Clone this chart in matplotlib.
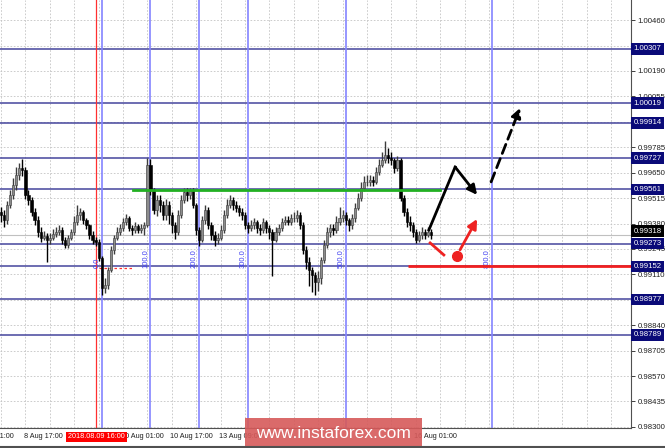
import matplotlib.pyplot as plt
from matplotlib.transforms import blended_transform_factory, ScaledTranslation
from matplotlib.patches import Rectangle
from matplotlib.lines import Line2D

plt.rcParams['font.family'] = ['Liberation Sans', 'DejaVu Sans']

# Hourly candles, 8 Aug 09:00 .. 16 Aug 06:00
opens = [0.99440, 0.99425, 0.99399, 0.99478, 0.99532, 0.99585, 0.99638, 0.99675, 0.99664, 0.99532,
         0.99505, 0.99441, 0.99399, 0.99335, 0.99303, 0.99314, 0.99293, 0.99303, 0.99325, 0.99335,
         0.99346, 0.99293, 0.99266, 0.99303, 0.99335, 0.99388, 0.99425, 0.99441, 0.99399, 0.99372,
         0.99319, 0.99293, 0.99282, 0.99197, 0.99038, 0.99054, 0.99133, 0.99240, 0.99303, 0.99335,
         0.99356, 0.99388, 0.99409, 0.99356, 0.99346, 0.99367, 0.99346, 0.99356, 0.99372, 0.99691,
         0.99558, 0.99452, 0.99505, 0.99478, 0.99425, 0.99478, 0.99425, 0.99372, 0.99335, 0.99425,
         0.99505, 0.99548, 0.99532, 0.99558, 0.99478, 0.99346, 0.99293, 0.99399, 0.99452, 0.99372,
         0.99319, 0.99293, 0.99303, 0.99346, 0.99425, 0.99478, 0.99505, 0.99478, 0.99463, 0.99441,
         0.99425, 0.99372, 0.99356, 0.99372, 0.99388, 0.99356, 0.99346, 0.99388, 0.99356, 0.99335,
         0.99293, 0.99335, 0.99356, 0.99388, 0.99399, 0.99388, 0.99409, 0.99409, 0.99425, 0.99372,
         0.99240, 0.99176, 0.99133, 0.99107, 0.99070, 0.99091, 0.99186, 0.99266, 0.99335, 0.99356,
         0.99346, 0.99388, 0.99409, 0.99425, 0.99399, 0.99372, 0.99409, 0.99463, 0.99516, 0.99569,
         0.99601, 0.99601, 0.99611, 0.99601, 0.99654, 0.99691, 0.99717, 0.99744, 0.99728, 0.99717,
         0.99675, 0.99717, 0.99516, 0.99441, 0.99388, 0.99372, 0.99335, 0.99293, 0.99319, 0.99335,
         0.99319, 0.99335]
highs = [0.99470, 0.99450, 0.99500, 0.99560, 0.99620, 0.99680, 0.99700, 0.99720, 0.99680, 0.99560,
         0.99520, 0.99460, 0.99420, 0.99360, 0.99340, 0.99330, 0.99330, 0.99350, 0.99360, 0.99370,
         0.99360, 0.99310, 0.99320, 0.99350, 0.99420, 0.99478, 0.99460, 0.99450, 0.99410, 0.99380,
         0.99340, 0.99310, 0.99300, 0.99210, 0.99090, 0.99150, 0.99260, 0.99320, 0.99360, 0.99380,
         0.99410, 0.99430, 0.99420, 0.99370, 0.99390, 0.99380, 0.99375, 0.99390, 0.99728, 0.99720,
         0.99570, 0.99530, 0.99530, 0.99500, 0.99510, 0.99500, 0.99440, 0.99390, 0.99450, 0.99530,
         0.99570, 0.99570, 0.99570, 0.99570, 0.99490, 0.99360, 0.99420, 0.99480, 0.99470, 0.99390,
         0.99340, 0.99330, 0.99370, 0.99450, 0.99510, 0.99530, 0.99520, 0.99500, 0.99480, 0.99460,
         0.99440, 0.99390, 0.99400, 0.99410, 0.99400, 0.99380, 0.99410, 0.99400, 0.99370, 0.99350,
         0.99360, 0.99380, 0.99410, 0.99420, 0.99420, 0.99430, 0.99440, 0.99450, 0.99440, 0.99390,
         0.99260, 0.99200, 0.99150, 0.99120, 0.99130, 0.99200, 0.99290, 0.99360, 0.99380, 0.99380,
         0.99420, 0.99470, 0.99450, 0.99440, 0.99410, 0.99430, 0.99490, 0.99540, 0.99600, 0.99630,
         0.99640, 0.99640, 0.99630, 0.99680, 0.99720, 0.99760, 0.99818, 0.99780, 0.99760, 0.99730,
         0.99740, 0.99730, 0.99530, 0.99460, 0.99420, 0.99390, 0.99350, 0.99340, 0.99360, 0.99350,
         0.99360, 0.99350]
lows = [0.99390, 0.99360, 0.99380, 0.99460, 0.99510, 0.99560, 0.99610, 0.99630, 0.99510, 0.99480,
        0.99420, 0.99370, 0.99310, 0.99280, 0.99290, 0.99176, 0.99270, 0.99290, 0.99310, 0.99320,
        0.99270, 0.99250, 0.99250, 0.99290, 0.99320, 0.99370, 0.99400, 0.99380, 0.99350, 0.99300,
        0.99270, 0.99260, 0.99180, 0.99001, 0.99010, 0.99030, 0.99120, 0.99220, 0.99290, 0.99320,
        0.99340, 0.99370, 0.99340, 0.99320, 0.99330, 0.99330, 0.99330, 0.99320, 0.99360, 0.99530,
        0.99430, 0.99420, 0.99440, 0.99400, 0.99400, 0.99380, 0.99330, 0.99300, 0.99320, 0.99410,
        0.99490, 0.99500, 0.99510, 0.99460, 0.99320, 0.99260, 0.99280, 0.99380, 0.99350, 0.99290,
        0.99260, 0.99270, 0.99290, 0.99330, 0.99410, 0.99460, 0.99450, 0.99440, 0.99420, 0.99400,
        0.99350, 0.99330, 0.99340, 0.99350, 0.99330, 0.99320, 0.99330, 0.99330, 0.99300, 0.99102,
        0.99280, 0.99320, 0.99340, 0.99370, 0.99370, 0.99370, 0.99390, 0.99390, 0.99350, 0.99220,
        0.99140, 0.99050, 0.99017, 0.99001, 0.99020, 0.99060, 0.99170, 0.99250, 0.99310, 0.99320,
        0.99330, 0.99370, 0.99390, 0.99370, 0.99340, 0.99350, 0.99390, 0.99450, 0.99500, 0.99550,
        0.99580, 0.99580, 0.99580, 0.99590, 0.99640, 0.99680, 0.99700, 0.99700, 0.99690, 0.99650,
        0.99660, 0.99500, 0.99420, 0.99360, 0.99340, 0.99310, 0.99275, 0.99280, 0.99300, 0.99300,
        0.99310, 0.99300]
closes = [0.99425, 0.99399, 0.99478, 0.99532, 0.99585, 0.99638, 0.99675, 0.99664, 0.99532, 0.99505,
          0.99441, 0.99399, 0.99335, 0.99303, 0.99314, 0.99293, 0.99303, 0.99325, 0.99335, 0.99346,
          0.99293, 0.99266, 0.99303, 0.99335, 0.99388, 0.99425, 0.99441, 0.99399, 0.99372, 0.99319,
          0.99293, 0.99282, 0.99197, 0.99038, 0.99054, 0.99133, 0.99240, 0.99303, 0.99335, 0.99356,
          0.99388, 0.99409, 0.99356, 0.99346, 0.99367, 0.99346, 0.99356, 0.99372, 0.99691, 0.99558,
          0.99452, 0.99505, 0.99478, 0.99425, 0.99478, 0.99425, 0.99372, 0.99335, 0.99425, 0.99505,
          0.99548, 0.99532, 0.99558, 0.99478, 0.99346, 0.99293, 0.99399, 0.99452, 0.99372, 0.99319,
          0.99293, 0.99303, 0.99346, 0.99425, 0.99478, 0.99505, 0.99478, 0.99463, 0.99441, 0.99425,
          0.99372, 0.99356, 0.99372, 0.99388, 0.99356, 0.99346, 0.99388, 0.99356, 0.99335, 0.99293,
          0.99335, 0.99356, 0.99388, 0.99399, 0.99388, 0.99409, 0.99409, 0.99425, 0.99372, 0.99240,
          0.99176, 0.99133, 0.99107, 0.99070, 0.99091, 0.99186, 0.99266, 0.99335, 0.99356, 0.99346,
          0.99388, 0.99409, 0.99425, 0.99399, 0.99372, 0.99409, 0.99463, 0.99516, 0.99569, 0.99601,
          0.99601, 0.99611, 0.99601, 0.99654, 0.99691, 0.99717, 0.99744, 0.99728, 0.99717, 0.99675,
          0.99717, 0.99516, 0.99441, 0.99388, 0.99372, 0.99335, 0.99293, 0.99319, 0.99335, 0.99319,
          0.99335, 0.99318]

# Price levels drawn on the chart
levels = [1.00307, 1.00019, 0.99914, 0.99727, 0.99561, 0.99273, 0.99152, 0.98977, 0.98789]
current_price = 0.99318
y_ticks = [1.00460, 1.00325, 1.00190, 1.00055, 0.99920, 0.99785, 0.99650, 0.99515, 0.99380,
           0.99245, 0.99110, 0.98975, 0.98840, 0.98705, 0.98570, 0.98435, 0.98300]
# ticks hidden behind the level labels in the original
y_tick_labels = ['1.00460', '', '1.00190', '1.00055', '', '0.99785', '0.99650', '0.99515', '0.99380',
                 '0.99245', '0.99110', '', '0.98840', '0.98705', '0.98570', '0.98435', '0.98300']

# Time axis labels (bar index of each label); the rest sit under the overlays
tick_bars = [-8, 8, 40, 56, 72, 136]
tick_labels = ['8 Aug 01:00', '8 Aug 17:00', '10 Aug 01:00', '10 Aug 17:00',
               '13 Aug 09:00', '16 Aug 01:00']
grid_bars = list(range(-8, 208, 8))
red_bar = 31.3
red_label = '2018.08.09 16:00'

# Fibonacci time zones
fib_start = 33
fib_step = 16
fib_levels = [0, 1, 2, 3, 5, 8]

# Support line and red level
green_x = [43.3, 143.9]
green_y = 0.99558
red_level_x = [133.4, 206.6]
red_level_y = 0.99152
red_dots_x = [32.0, 43.0]
red_dots_y = 0.99144

# Forecast arrows
black_path_x = [140.3, 148.9, 156.1]
black_path_y = [0.99346, 0.99680, 0.99532]
black_dash_x = [160.7, 170.2]
black_dash_y = [0.99601, 0.99994]
red_seg_x = [140.7, 145.2]
red_seg_y = [0.99277, 0.99213]
red_dot = (149.5, 0.99208)
red_arrow_x = [150.5, 156.1]
red_arrow_y = [0.99240, 0.99404]


def main():
    fig = plt.figure(figsize=(6.65, 4.48), dpi=100)
    ax = fig.add_axes([0, 20 / 448, 631 / 665, 428 / 448])

    # Grid
    ax.set_yticks(y_ticks)
    ax.set_yticklabels(y_tick_labels)
    ax.set_xticks(grid_bars)
    ax.set_xticklabels([])
    ax.grid(True, color='#c4c4c4', lw=0.6, ls=(0, (2, 2)), zorder=0)
    ax.set_xlim(-0.33, 206.56)
    ax.set_ylim(0.98294, 1.00567)
    ax.yaxis.tick_right()
    ax.tick_params(axis='y', length=3, width=0.6, labelsize=5.6, pad=1.5, colors='#202020')
    ax.tick_params(axis='x', length=0)
    for s in ['left', 'top']:
        ax.spines[s].set_visible(False)
    for s in ['right', 'bottom']:
        ax.spines[s].set_color('#505050')
        ax.spines[s].set_linewidth(0.8)

    # Candles
    x = list(range(len(closes)))
    bottoms, heights, colors, edges = [], [], [], []
    for o, c in zip(opens, closes):
        bottoms.append(min(o, c))
        heights.append(max(abs(c - o), 0.00002))
        colors.append('#8c8c8c' if c >= o else '#000000')
        edges.append('#3c3c3c' if c >= o else '#000000')
    ax.vlines(x, lows, highs, colors=edges, lw=1.0, zorder=3)
    ax.bar(x, heights, width=0.72, bottom=bottoms, color=colors,
           edgecolor=edges, linewidth=0.4, zorder=4)

    # Horizontal levels
    trans = blended_transform_factory(ax.transAxes, ax.transData)
    ax.axhline(current_price, color='#c0c0c0', lw=0.8, zorder=2)
    for p in levels:
        ax.axhline(p, color='#45459c', lw=1.1, zorder=2)
        ax.text(1.004, p, f'{p:.5f}', transform=trans, ha='left', va='center',
                fontsize=5.6, color='white', clip_on=False, zorder=6,
                bbox=dict(boxstyle='square,pad=0.3', fc='#0a0a78', ec='none'))
    # current price label sits just above the 0.99273 label
    up = trans + ScaledTranslation(0, 4 / 100, fig.dpi_scale_trans)
    ax.text(1.004, current_price, f'{current_price:.5f}', transform=up, ha='left',
            va='center', fontsize=5.6, color='white', clip_on=False, zorder=7,
            bbox=dict(boxstyle='square,pad=0.3', fc='#000000', ec='none'))

    # Fibonacci time zones
    for k in fib_levels:
        fx = fib_start + fib_step * k
        ax.axvline(fx, color='#8484ff', lw=1.2, zorder=2)
        ax.text(fx - 0.4, 0.99146, f'{k * 100:.1f}', rotation=90, ha='right', va='bottom',
                fontsize=5.5, color='#4040f0', zorder=5)
    ax.axvline(red_bar, color='#ff3030', lw=0.9, zorder=2)
    ax.plot(red_dots_x, [red_dots_y] * 2, color='#ff3030', lw=0.9, ls=(0, (2, 2)), zorder=2)

    # Green line and red level
    ax.plot(green_x, [green_y] * 2, color='#22b022', lw=2, zorder=5)
    ax.plot(red_level_x, [red_level_y] * 2, color='#f02020', lw=2, zorder=5,
            solid_capstyle='butt')

    # Forecast arrows
    ax.plot(black_path_x[:2], black_path_y[:2], color='black', lw=2, zorder=6)
    ax.annotate('', xy=(black_path_x[2], black_path_y[2]), xytext=(black_path_x[1], black_path_y[1]),
                arrowprops=dict(arrowstyle='-|>', color='black', lw=2, mutation_scale=14,
                                shrinkA=0, shrinkB=0), zorder=6)
    ax.annotate('', xy=(black_dash_x[1], black_dash_y[1]), xytext=(black_dash_x[0], black_dash_y[0]),
                arrowprops=dict(arrowstyle='-|>', color='black', lw=2, mutation_scale=14,
                                ls=(0, (3.5, 2)), shrinkA=0, shrinkB=0), zorder=6)
    ax.plot(red_seg_x, red_seg_y, color='#ee2222', lw=2, zorder=6)
    ax.plot(red_dot[0], red_dot[1], 'o', ms=7, color='#ee2222', zorder=6)
    ax.annotate('', xy=(red_arrow_x[1], red_arrow_y[1]), xytext=(red_arrow_x[0], red_arrow_y[0]),
                arrowprops=dict(arrowstyle='-|>', color='#ee2222', lw=2, mutation_scale=14,
                                shrinkA=0, shrinkB=0), zorder=6)

    # Time labels
    xtrans = blended_transform_factory(ax.transData, ax.transAxes)
    for b, lab in zip(tick_bars, tick_labels):
        ax.text(b - 0.5, -0.021, lab, transform=xtrans, ha='left', va='center',
                fontsize=5.2, color='#202020', clip_on=False)
    ax.text(red_bar, -0.021, red_label, transform=xtrans, ha='center', va='center',
            fontsize=5.2, color='white', clip_on=False, zorder=8,
            bbox=dict(boxstyle='square,pad=0.25', fc='#ff0000', ec='none'))

    # Watermark
    fig.add_artist(Rectangle((245 / 665, 0), 177 / 665, 30 / 448, transform=fig.transFigure,
                             fc='#d65a5a', ec='none', alpha=0.9, zorder=10))
    fig.text(333.5 / 665, 15 / 448, 'www.instaforex.com', ha='center', va='center',
             fontsize=12.5, color='white', zorder=11)
    fig.add_artist(Line2D([0, 1], [0.8 / 448, 0.8 / 448], transform=fig.transFigure,
                          color='#505050', lw=1.5, zorder=12))

    fig.savefig('out.png', dpi=100)


if __name__ == '__main__':
    main()
